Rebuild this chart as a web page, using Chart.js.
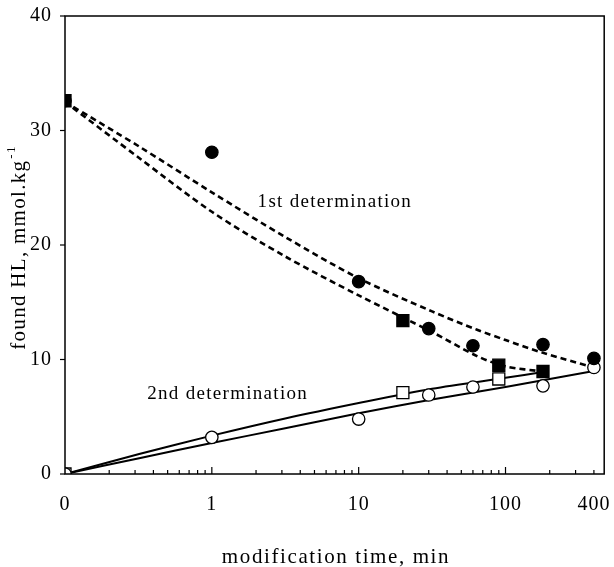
<!DOCTYPE html>
<html><head><meta charset="utf-8">
<script src="https://cdn.jsdelivr.net/npm/chart.js@4.4.0/dist/chart.umd.min.js"></script>
<style>html,body{margin:0;padding:0;background:#fff;}canvas{display:block;}</style>
</head><body>
<canvas id="c" width="614" height="567"></canvas>
<script>
// time 0 is shown at the 0.1 position of the log axis (labelled "0")
const ZERO_AT = 0.1;
const xTickValues = [0, 1, 10, 100, 400];
const xTickLabels = ['0', '1', '10', '100', '400'];
const yTickValues = [0, 10, 20, 30, 40];

// circles: filled = 1st determination, open = 2nd determination
const circleTimes  = [0, 1, 10, 30, 60, 180, 400];
const circleFirst  = [32.6, 28.1, 16.8, 12.7, 11.2, 11.3, 10.1];
const circleSecond = [0, 3.2, 4.8, 6.9, 7.6, 7.7, 9.3];

// squares: filled = 1st determination, open = 2nd determination
const squareTimes  = [0, 20, 90, 180];
const squareFirst  = [32.6, 13.4, 9.5, 8.95];
const squareSecondTimes = [0, 20, 90];
const squareSecond = [0, 7.1, 8.3];

// fitted curves
const fit1UpperTimes = [0, 0.32, 1, 3.16, 10, 31.6, 64, 100, 178, 400];
const fit1Upper      = [32.5, 28.6, 24.6, 20.7, 17.1, 14.2, 12.6, 11.7, 10.6, 9.3];
const fit1LowerTimes = [0, 0.32, 1, 3.16, 10, 31.6, 64, 100, 180];
const fit1Lower      = [32.5, 27.6, 22.9, 19.0, 15.6, 12.4, 10.3, 9.4, 8.95];
const fit2UpperTimes = [0, 0.32, 1, 3.16, 10, 31.6, 100, 180];
const fit2Upper      = [0, 1.75, 3.35, 4.85, 6.2, 7.45, 8.4, 8.9];
const fit2LowerTimes = [0, 0.32, 1, 3.16, 10, 31.6, 100, 400];
const fit2Lower      = [0, 1.38, 2.7, 4.0, 5.3, 6.5, 7.6, 9.0];

const labels = [
  {text: '1st determination', t: 2.05, v: 23.3},
  {text: '2nd determination', t: 0.363, v: 6.55}
];
const xTitle = 'modification time, min';
const yTitleMain = 'found HL, mmol.kg';
const yTitleSup = '-1';

const SERIF = "'Liberation Serif', 'Times New Roman', serif";
const tx = t => (t === 0 ? ZERO_AT : t);
const pts = (ts, vs) => ts.map((t, i) => ({x: tx(t), y: vs[i]}));

const curve = (data, dashed) => ({
  type: 'line', data, borderColor: '#000', borderWidth: dashed ? 2.6 : 2,
  borderDash: dashed ? [6, 4] : [], pointRadius: 0, fill: false,
  tension: 0.3, order: 10
});
const marks = (data, style, filled) => ({
  type: 'scatter', data, pointStyle: style,
  pointRadius: style === 'rect' ? 8.5 : 6.2,
  pointBackgroundColor: filled ? '#000' : '#fff',
  pointBorderColor: '#000', pointBorderWidth: 1.3, showLine: false
});

const frame = {
  id: 'frame',
  beforeUpdate(chart) { chart.ctx.letterSpacing = '1px'; },
  beforeDraw(chart) { chart.ctx.letterSpacing = '1px'; },
  afterDraw(chart) {
    const {ctx, chartArea: a, scales: {x, y}} = chart;
    ctx.save();
    ctx.strokeStyle = '#000';
    ctx.lineWidth = 1.5;
    ctx.strokeRect(a.left, a.top, a.right - a.left, a.bottom - a.top);
    // x ticks (inward), log minor ticks
    ctx.lineWidth = 1.2;
    for (let k = -1; k <= 2; k++) {
      for (let m = 1; m <= 9; m++) {
        const v = m * Math.pow(10, k);
        if (v <= ZERO_AT + 1e-9 || v > 400) continue;
        const px = x.getPixelForValue(v);
        const len = (m === 1) ? 7 : 4;
        ctx.beginPath(); ctx.moveTo(px, a.bottom); ctx.lineTo(px, a.bottom - len); ctx.stroke();
      }
    }
    // y ticks (outward)
    yTickValues.forEach(v => {
      const py = y.getPixelForValue(v);
      ctx.beginPath(); ctx.moveTo(a.left, py); ctx.lineTo(a.left - 5, py); ctx.stroke();
    });
    // annotations
    ctx.fillStyle = '#000';
    ctx.letterSpacing = '1.3px';
    ctx.font = '19px ' + SERIF;
    ctx.textAlign = 'left'; ctx.textBaseline = 'alphabetic';
    labels.forEach(l => ctx.fillText(l.text, x.getPixelForValue(l.t), y.getPixelForValue(l.v)));
    // x title
    ctx.font = '21px ' + SERIF;
    ctx.letterSpacing = '1.6px';
    ctx.textAlign = 'center';
    ctx.fillText(xTitle, 336, 563);
    // y title with superscript
    ctx.save();
    ctx.translate(25, 248);
    ctx.rotate(-Math.PI / 2);
    ctx.letterSpacing = '1.3px';
    ctx.font = '21px ' + SERIF;
    const w1 = ctx.measureText(yTitleMain).width;
    ctx.font = '13px ' + SERIF;
    const w2 = ctx.measureText(yTitleSup).width;
    const start = -(w1 + w2) / 2;
    ctx.textAlign = 'left';
    ctx.font = '21px ' + SERIF;
    ctx.fillText(yTitleMain, start, 0);
    ctx.font = '13px ' + SERIF;
    ctx.fillText(yTitleSup, start + w1 + 1, -10);
    ctx.restore();
    ctx.restore();
  }
};

new Chart(document.getElementById('c'), {
  data: {
    datasets: [
      curve(pts(fit1UpperTimes, fit1Upper), true),
      curve(pts(fit1LowerTimes, fit1Lower), true),
      curve(pts(fit2UpperTimes, fit2Upper), false),
      curve(pts(fit2LowerTimes, fit2Lower), false),
      marks(pts(circleTimes, circleFirst), 'circle', true),
      marks(pts(squareTimes, squareFirst), 'rect', true),
      marks(pts(circleTimes, circleSecond), 'circle', false),
      marks(pts(squareSecondTimes, squareSecond), 'rect', false)
    ]
  },
  options: {
    responsive: false, animation: false, devicePixelRatio: 1,
    layout: {padding: {top: 16, right: 6, left: 0, bottom: 0}},
    plugins: {legend: {display: false}, tooltip: {enabled: false}},
    elements: {point: {hoverRadius: 6}},
    scales: {
      x: {
        type: 'logarithmic', min: ZERO_AT, max: 470,
        grid: {display: false, drawTicks: false}, border: {display: false},
        afterBuildTicks: s => { s.ticks = xTickValues.map(v => ({value: tx(v)})); },
        afterFit: s => { s.height = 93; s.paddingLeft = 0; s.paddingRight = 0; },
        ticks: {
          autoSkip: false, maxRotation: 0, padding: 19, color: '#000',
          font: {family: SERIF, size: 20},
          callback: (v, i) => xTickLabels[i]
        }
      },
      y: {
        type: 'linear', min: 0, max: 40,
        grid: {display: false, drawTicks: false}, border: {display: false},
        afterBuildTicks: s => { s.ticks = yTickValues.map(v => ({value: v})); },
        afterFit: s => { s.width = 65; s.paddingTop = 0; s.paddingBottom = 0; },
        ticks: {padding: 13, color: '#000', font: {family: SERIF, size: 20}}
      }
    }
  },
  plugins: [frame]
});
</script>
</body></html>
